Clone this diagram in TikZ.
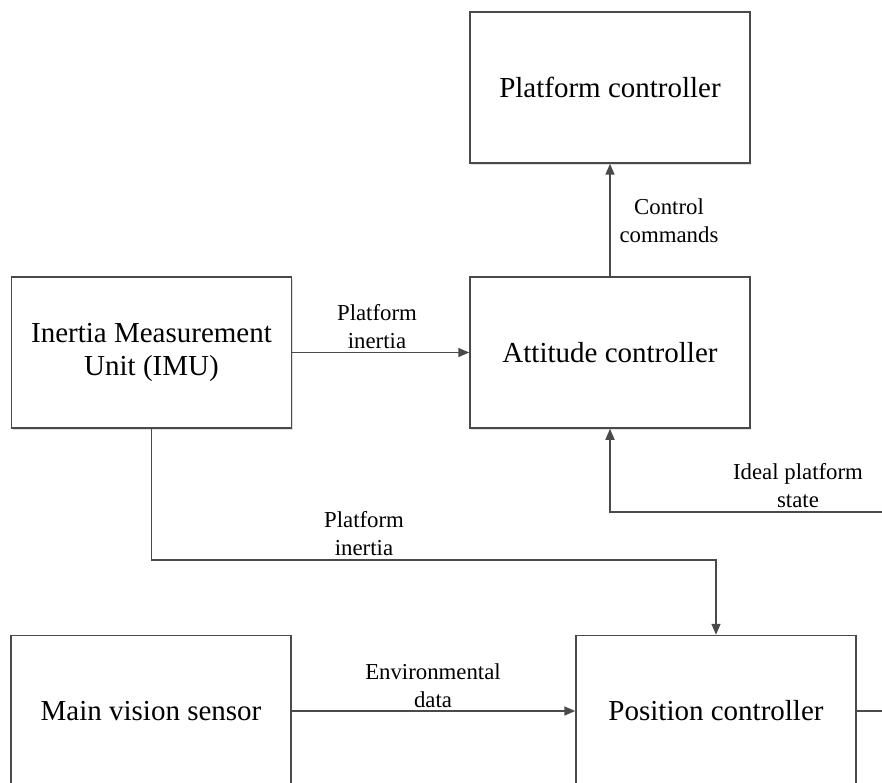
\documentclass[tikz,border=0pt]{standalone}
\usepackage{fontspec}
\setmainfont{Liberation Serif}
\usetikzlibrary{arrows.meta,shadows}
\definecolor{linegray}{HTML}{4A4A4A}
\tikzset{
  block/.style={draw=linegray, line width=1.5pt, fill=white,
    minimum width=280pt, minimum height=151pt, inner sep=0pt,
    align=center, font=\fontsize{29}{33}\selectfont,
    drop shadow={shadow xshift=1pt, shadow yshift=-2pt, opacity=0.25, fill=gray}},
  link/.style={draw=linegray, line width=1.6pt},
  arr/.style={link, -{Triangle[length=11pt,width=9pt]}},
  lbl/.style={align=center, inner sep=0pt, font=\fontsize{22.8}{28}\selectfont}
}
\begin{document}
\begin{tikzpicture}[x=1pt,y=-1pt]
  \useasboundingbox (0,0) rectangle (882,783);

  % blocks
  \node[block] (plat) at (610,87.5) {Platform controller};
  \node[block] (att)  at (610,352.5) {Attitude controller};
  \node[block] (imu)  at (151.5,352.5) {Inertia Measurement\\Unit (IMU)};
  \node[block] (vis)  at (151,711) {Main vision sensor};
  \node[block] (pos)  at (716,711) {Position controller};

  % free ends at the right border
  \coordinate (idealin) at (882,512);
  \coordinate (posout)  at (882,711);

  % connectors
  \draw[arr] (att.north) -- (plat.south);
  \draw[arr] (imu.east) -- (att.west);
  \draw[arr] (idealin) -| (att.south);
  \draw[arr] (imu.south) -- ++(0,131) -| (pos.north);
  \draw[arr] (vis.east) -- (pos.west);
  \draw[link] (pos.east) -- (posout);

  % connector labels
  \node[lbl] (lcc)  at (669,221) {Control\\commands};
  \node[lbl] (lpi1) at (377,327) {Platform\\inertia};
  \node[lbl] (lips) at (798,486) {Ideal platform\\state};
  \node[lbl] (lpi2) at (364,534) {Platform\\inertia};
  \node[lbl] (led)  at (433,686) {Environmental\\data};
\end{tikzpicture}
\end{document}
